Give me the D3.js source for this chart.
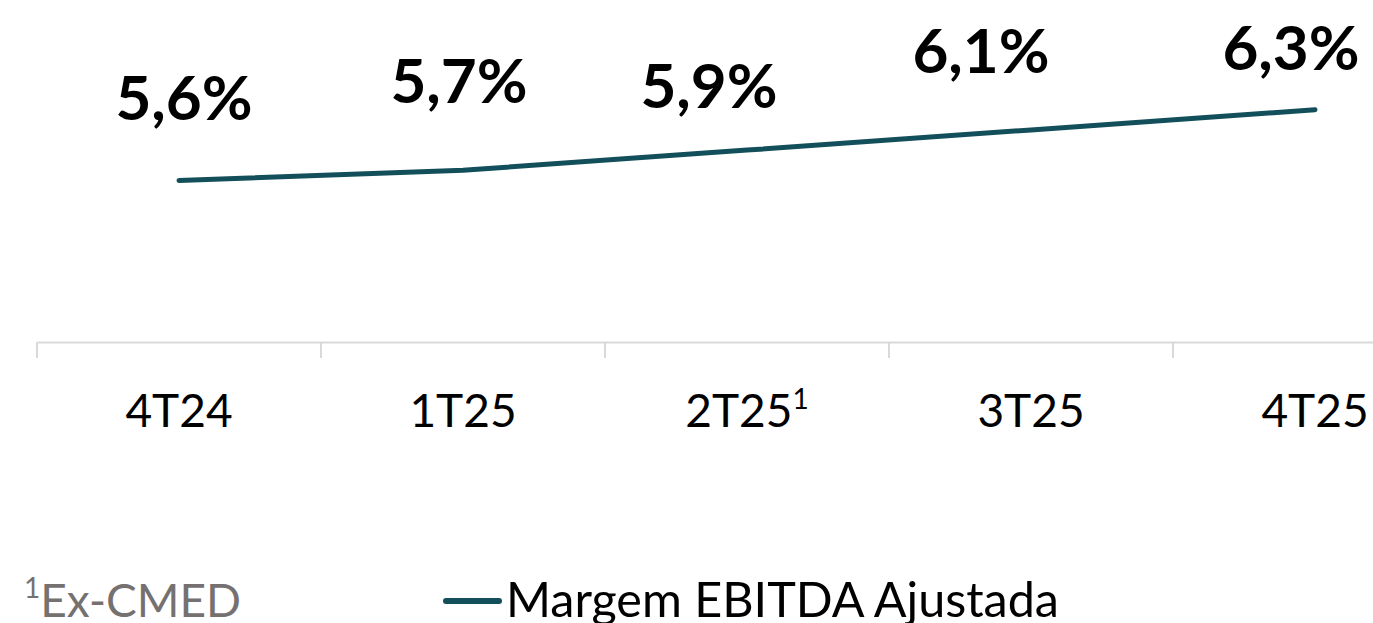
<!DOCTYPE html>
<html>
<head>
<meta charset="utf-8">
<script src="https://cdn.jsdelivr.net/npm/d3@7"></script>
<style>
  body { margin: 0; background: #fff; }
  svg { display: block; }
  text { font-family: Lato, "Open Sans", sans-serif; }
</style>
</head>
<body>
<div id="chart"></div>
<script>
// data
const categories = ['4T24', '1T25', '2T25', '3T25', '4T25'];
const categoryMarks = ['', '', '1', '', ''];
const marginValues = [5.6, 5.7, 5.9, 6.1, 6.3];
const marginLabels = ['5,6%', '5,7%', '5,9%', '6,1%', '6,3%'];
const seriesName = 'Margem EBITDA Ajustada';
const footnoteMark = '1';
const footnoteText = 'Ex-CMED';

// label placement was nudged by hand in the original, keep it apart from the data
const labelShift = [[5, -60], [-4, -67], [-38, -42], [-50, -57], [-24, -40]];

const width = 1373;
const height = 623;
const lineColor = '#134f5a';
const axisColor = '#d9d9d9';

const svg = d3.select('#chart')
    .append('svg')
    .attr('width', width)
    .attr('height', height);

const x = d3.scaleBand()
    .domain(categories)
    .range([37, 37 + 284 * categories.length])
    .padding(0);

const y = d3.scaleLinear()
    .domain([4, 7])
    .range([342, 39]);

const cx = d => x(d) + x.bandwidth() / 2;

// axis
const axisX = d3.axisBottom(x)
    .tickSizeInner(0)
    .tickSizeOuter(0)
    .tickPadding(52);

const axisG = svg.append('g')
    .attr('transform', `translate(0, ${y.range()[0]})`)
    .call(axisX);

axisG.select('.domain')
    .attr('stroke', axisColor)
    .attr('stroke-width', 2);

axisG.selectAll('.tick text')
    .attr('fill', '#000')
    .attr('font-size', 46)
    .each(function (d, i) {
        if (categoryMarks[i]) {
            d3.select(this).append('tspan')
                .attr('font-size', 28)
                .attr('dy', -18)
                .text(categoryMarks[i]);
        }
    });

// tick marks sit between the categories
axisG.selectAll('.divider')
    .data(categories)
    .enter()
    .append('line')
    .attr('class', 'divider')
    .attr('x1', d => x(d))
    .attr('x2', d => x(d))
    .attr('y1', 0)
    .attr('y2', 16)
    .attr('stroke', axisColor)
    .attr('stroke-width', 2);

// line
const points = categories.map((c, i) => ({ cat: c, value: marginValues[i], label: marginLabels[i] }));

const line = d3.line()
    .x(d => cx(d.cat))
    .y(d => y(d.value));

svg.append('path')
    .datum(points)
    .attr('d', line)
    .attr('fill', 'none')
    .attr('stroke', lineColor)
    .attr('stroke-width', 5)
    .attr('stroke-linecap', 'round')
    .attr('stroke-linejoin', 'round');

// value labels
svg.selectAll('.value')
    .data(points)
    .enter()
    .append('text')
    .attr('class', 'value')
    .attr('x', (d, i) => cx(d.cat) + labelShift[i][0])
    .attr('y', (d, i) => y(d.value) + labelShift[i][1])
    .attr('text-anchor', 'middle')
    .attr('font-size', 62)
    .attr('font-weight', 700)
    .attr('fill', '#000')
    .text(d => d.label);

// footnote
const foot = svg.append('text')
    .attr('x', 24)
    .attr('y', 617)
    .attr('font-size', 46)
    .attr('fill', '#767171');

foot.append('tspan')
    .attr('font-size', 28)
    .attr('dy', -19)
    .text(footnoteMark);

foot.append('tspan')
    .attr('dy', 19)
    .text(footnoteText);

// legend
svg.append('line')
    .attr('x1', 446)
    .attr('x2', 499)
    .attr('y1', 601)
    .attr('y2', 601)
    .attr('stroke', lineColor)
    .attr('stroke-width', 6)
    .attr('stroke-linecap', 'round');

svg.append('text')
    .attr('x', 506)
    .attr('y', 617)
    .attr('font-size', 48.5)
    .attr('fill', '#000')
    .text(seriesName);
</script>
</body>
</html>
